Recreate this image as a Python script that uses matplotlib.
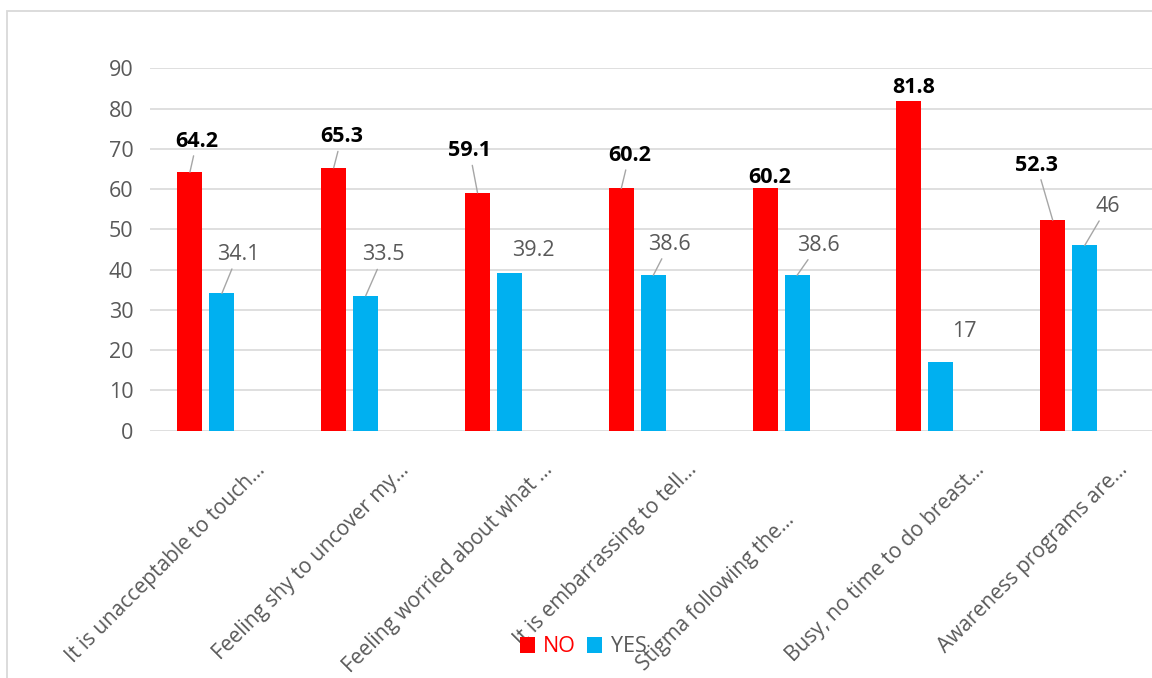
import matplotlib
matplotlib.use("Agg")
import matplotlib.pyplot as plt
from matplotlib.patches import Patch, Rectangle
import numpy as np

# ---- data ----
categories = [
    "It is unacceptable to touch...",
    "Feeling shy to uncover my...",
    "Feeling worried about what ...",
    "It is embarrassing to tell...",
    "Stigma following the...",
    "Busy, no time to do breast...",
    "Awareness programs are...",
]
no_values = [64.2, 65.3, 59.1, 60.2, 60.2, 81.8, 52.3]
yes_values = [34.1, 33.5, 39.2, 38.6, 38.6, 17, 46]
y_ticks = [0, 10, 20, 30, 40, 50, 60, 70, 80, 90]

# ---- styling ----
RED = "#FF0000"
BLUE = "#00B0F0"
GREY_TXT = "#595959"
GRID = "#D9D9D9"
LEADER = "#A6A6A6"
FONT = "Open Sans"

# label offsets (pixels from the top of each bar) and whether a leader line is drawn
no_label_off = [(7, 31), (8, 31), (-8, 42), (8, 33), (5, 11), (5, 14), (-16, 55)]
no_leader = [True, True, True, True, False, False, True]
yes_label_off = [(16, 39), (18, 41), (24, 22), (16, 31), (21, 30), (23, 31), (23, 39)]
yes_leader = [True, True, False, True, True, False, True]
# category label anchor offsets (pixels from tick position on the axis)
cat_label_off = [(40, -36)] * 4 + [(-6, -86)] + [(40, -36)] * 2

plt.rcParams["font.family"] = [FONT, "DejaVu Sans"]

W, H = 1152, 678
fig = plt.figure(figsize=(W / 100, H / 100), dpi=100)
fig.patch.set_facecolor("white")

# outer chart border
fig.patches.append(Rectangle((7 / W, -0.05), 1.2, 1 - 11 / H + 0.05,
                             transform=fig.transFigure, fill=False,
                             edgecolor=GRID, lw=1.3))

ax = fig.add_axes([150 / W, (H - 430.7) / H, 1006.6 / W, 362.4 / H])

x = np.arange(len(categories))
bw = 0.174
no_x = x - 0.2225
yes_x = x
ax.bar(no_x, no_values, width=bw, color=RED, zorder=3)
ax.bar(yes_x, yes_values, width=bw, color=BLUE, zorder=3)

ax.set_xlim(-0.5, len(categories) - 0.5)
ax.set_ylim(0, 90)
ax.set_yticks(y_ticks)
ax.set_yticklabels([str(t) for t in y_ticks])
ax.yaxis.grid(True, color=GRID, lw=1.2, zorder=0)
ax.set_axisbelow(True)
for s in ax.spines.values():
    s.set_visible(False)
ax.tick_params(axis="y", length=0, pad=12, labelsize=15.5, labelcolor=GREY_TXT)
ax.set_xticks([])

# value labels
for xi, v, off, lead in zip(no_x, no_values, no_label_off, no_leader):
    ax.annotate(f"{v:g}", xy=(xi, v), xytext=off, textcoords="offset pixels",
                ha="center", va="center", fontsize=15.5, fontweight="bold",
                color="black", zorder=5,
                arrowprops=dict(arrowstyle="-", color=LEADER, lw=1,
                                shrinkA=1, shrinkB=0) if lead else None)
for xi, v, off, lead in zip(yes_x, yes_values, yes_label_off, yes_leader):
    ax.annotate(f"{v:g}", xy=(xi, v), xytext=off, textcoords="offset pixels",
                ha="center", va="center", fontsize=15.5, color=GREY_TXT,
                zorder=5,
                arrowprops=dict(arrowstyle="-", color=LEADER, lw=1,
                                shrinkA=1, shrinkB=0) if lead else None)

# rotated category labels
for xi, lab, off in zip(x, categories, cat_label_off):
    ax.annotate(lab, xy=(xi, 0), xycoords=ax.get_xaxis_transform(),
                xytext=off, textcoords="offset pixels", rotation=45,
                rotation_mode="anchor", ha="right", va="center",
                fontsize=15, color=GREY_TXT, annotation_clip=False)

# legend
handles = [Patch(facecolor=RED, label="NO"), Patch(facecolor=BLUE, label="YES")]
leg = fig.legend(handles=handles, loc="center", bbox_to_anchor=(583 / W, 1 - 647 / H),
                 ncol=2, frameon=False, fontsize=15.5, handlelength=0.7,
                 handleheight=0.7, handletextpad=0.4, columnspacing=0.5)
leg.get_texts()[0].set_color(RED)
leg.get_texts()[1].set_color(GREY_TXT)

fig.savefig("out.png", dpi=100)
